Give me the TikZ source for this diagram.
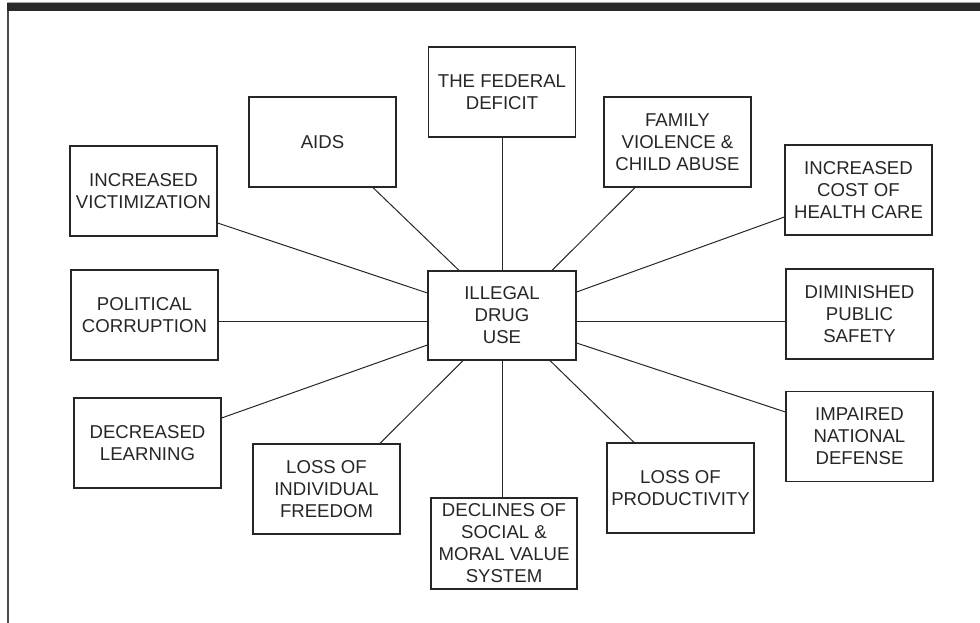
\documentclass[tikz,border=0pt]{standalone}
\usepackage{fontspec}
\setmainfont{Liberation Sans}
\definecolor{ink}{HTML}{262626}
\definecolor{barfill}{HTML}{2A2A2A}
\definecolor{rule}{HTML}{4A4A4A}
\tikzset{
  box/.style={draw=ink, line width=1.2pt, minimum width=147pt, minimum height=90pt,
    inner sep=0pt, align=center, text=ink, font=\fontsize{18.6}{22}\selectfont},
  link/.style={draw=ink, line width=1pt}
}
\begin{document}
\begin{tikzpicture}[x=1pt,y=-1pt]
\useasboundingbox (0,0) rectangle (980,623);

% page frame: heavy bar along the top, thin rule down the left
\fill[barfill] (7,3.2) rectangle (980,11);
\fill[gray!70] (7,2) rectangle (980,3.2);
\draw[rule, line width=2pt] (8,11) -- (8,623);

% central cause
\node[box, minimum width=148pt, minimum height=89pt] (hub) at (502,315.5) {ILLEGAL\\DRUG\\USE};

% consequences
\node[box] (fed)    at (502,92)      {THE FEDERAL\\DEFICIT};
\node[box] (aids)   at (322.5,142)   {AIDS};
\node[box] (family) at (677.5,142)   {FAMILY\\VIOLENCE \&\\CHILD ABUSE};
\node[box] (victim) at (143.5,191)   {INCREASED\\VICTIMIZATION};
\node[box] (cost)   at (858.5,190)   {INCREASED\\COST OF\\HEALTH CARE};
\node[box] (polit)  at (144.5,315)   {POLITICAL\\CORRUPTION};
\node[box] (safety) at (859.5,314)   {DIMINISHED\\PUBLIC\\SAFETY};
\node[box] (learn)  at (147.5,443)   {DECREASED\\LEARNING};
\node[box] (defense) at (859.5,436.5) {IMPAIRED\\NATIONAL\\DEFENSE};
\node[box] (freedom) at (326.5,489)  {LOSS OF\\INDIVIDUAL\\FREEDOM};
\node[box] (product) at (680.5,488)  {LOSS OF\\PRODUCTIVITY};
\node[box, minimum width=146pt, minimum height=91pt] (values) at (504,543.5) {DECLINES OF\\SOCIAL \&\\MORAL VALUE\\SYSTEM};

% spokes from the hub
\draw[link] ([yshift=-32pt]victim.east) -- ([yshift=22.5pt]hub.west);
\draw[link] ([xshift=50.5pt]aids.south) -- ([xshift=-43pt]hub.north);
\draw[link] (fed.south) -- (hub.north);
\draw[link] ([xshift=-42.5pt]family.south) -- ([xshift=50pt]hub.north);
\draw[link] ([yshift=-27pt]cost.west) -- ([yshift=23.5pt]hub.east);
\draw[link] ([yshift=-6pt]polit.east) -- ([yshift=-5.5pt]hub.west);
\draw[link] ([yshift=-7pt]safety.west) -- ([yshift=-5.5pt]hub.east);
\draw[link] ([yshift=25pt]learn.east) -- ([yshift=-29.5pt]hub.west);
\draw[link] ([yshift=24.5pt]defense.west) -- ([yshift=-27.5pt]hub.east);
\draw[link] ([xshift=53.5pt]freedom.north) -- ([xshift=-39pt]hub.south);
\draw[link] ([xshift=-46.5pt]product.north) -- ([xshift=48pt]hub.south);
\draw[link] ([xshift=-2pt]values.north) -- (hub.south);
\end{tikzpicture}
\end{document}
